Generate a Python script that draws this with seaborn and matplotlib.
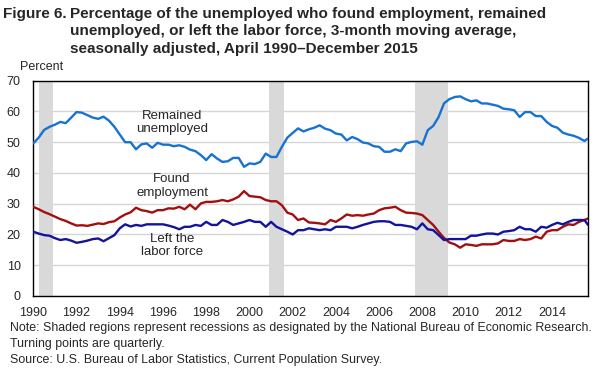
import pandas as pd
import matplotlib
matplotlib.use('Agg')
import matplotlib.pyplot as plt
import seaborn as sns

# quarterly readings, April 1990 .. October 2015, plus December 2015
dates = list(pd.date_range('1990-04-01', '2015-10-01', freq='3MS')) + [pd.Timestamp('2015-12-01')]

remained = [49.6, 51.5, 54.0, 55.0, 55.7, 56.6, 56.2, 58.0, 59.8, 59.6, 58.8, 58.0, 57.6, 58.3,
            57.0, 55.0, 52.5, 50.0, 50.0, 47.7, 49.3, 49.6, 48.2, 49.8, 49.2, 49.2, 48.7,
            49.0, 48.5, 47.6, 47.1, 45.8, 44.2, 46.1, 44.7, 43.6, 43.8, 44.9, 44.9, 42.0,
            43.1, 42.9, 43.6, 46.3, 45.2, 45.2, 48.5, 51.5, 53.0, 54.5, 53.5, 54.2, 54.7,
            55.5, 54.4, 53.9, 52.8, 52.5, 50.6, 51.7, 51.0, 49.9, 49.6, 48.7, 48.5, 46.9,
            46.9, 47.7, 47.1, 49.6, 50.1, 50.3, 49.2, 53.9, 55.3, 58.2, 62.6, 64.0, 64.7,
            64.9, 64.0, 63.3, 63.6, 62.6, 62.6, 62.2, 61.8, 60.9, 60.7, 60.4, 58.2, 59.8,
            59.8, 58.5, 58.5, 56.6, 55.3, 54.7, 53.1, 52.5, 52.1, 51.4, 50.4, 51.2]

found = [29.0, 28.2, 27.3, 26.6, 25.8, 25.0, 24.4, 23.6, 22.9, 23.0, 22.8, 23.2, 23.6, 23.4,
         24.0, 24.3, 25.5, 26.5, 27.2, 28.7, 27.9, 27.6, 27.1, 27.9, 27.9, 28.5, 28.4,
         29.0, 28.2, 29.7, 28.2, 30.1, 30.6, 30.6, 30.8, 31.2, 30.8, 31.4, 32.3, 34.1,
         32.5, 32.3, 32.1, 31.2, 30.8, 30.8, 29.5, 27.1, 26.5, 24.7, 25.2, 23.9, 23.8,
         23.6, 23.3, 24.7, 24.1, 25.2, 26.5, 26.1, 26.3, 26.1, 26.5, 26.8, 27.9, 28.5,
         28.7, 29.0, 27.9, 27.1, 27.0, 26.8, 26.3, 24.7, 23.1, 20.9, 18.9, 17.4, 16.8,
         15.7, 16.8, 16.6, 16.3, 16.8, 16.8, 16.8, 17.1, 18.2, 17.9, 17.9, 18.5, 18.2,
         18.5, 19.3, 18.7, 20.9, 21.4, 21.4, 22.5, 23.3, 23.1, 24.1, 24.7, 25.2]

left_lf = [20.9, 20.3, 19.8, 19.6, 18.8, 18.2, 18.5, 18.0, 17.3, 17.6, 18.0, 18.5, 18.7, 17.8,
           18.8, 19.8, 22.0, 23.3, 22.6, 23.1, 22.8, 23.3, 23.3, 23.3, 23.3, 22.9, 22.4,
           21.7, 22.5, 22.5, 23.1, 22.8, 24.1, 23.1, 23.1, 24.7, 24.1, 23.1, 23.6, 24.1,
           24.7, 24.1, 24.1, 22.5, 24.1, 22.5, 21.7, 20.9, 20.0, 21.4, 21.4, 22.0, 21.7,
           21.4, 21.7, 21.4, 22.5, 22.5, 22.5, 22.0, 22.5, 23.1, 23.6, 24.1, 24.3, 24.3,
           24.1, 23.1, 23.1, 22.8, 22.5, 21.7, 23.6, 21.7, 21.4, 19.8, 18.2, 18.5, 18.5,
           18.5, 18.5, 19.6, 19.6, 20.0, 20.3, 20.3, 20.0, 20.9, 21.1, 21.4, 22.5, 21.7,
           21.7, 20.9, 22.5, 22.2, 23.1, 23.8, 23.3, 24.1, 24.7, 24.7, 24.7, 23.1]

series_names = ['Remained unemployed', 'Found employment', 'Left the labor force']
series_colors = ['#1673d1', '#a30f10', '#13139b']

recessions = [('1990-07-01', '1991-03-01'), ('2001-03-01', '2001-11-01'), ('2007-12-01', '2009-06-01')]

df = pd.DataFrame({
    'date': dates * 3,
    'value': remained + found + left_lf,
    'series': sum([[n] * len(dates) for n in series_names], []),
})

sns.set_style('white')
plt.rcParams['font.family'] = ['Liberation Sans', 'DejaVu Sans']

fig = plt.figure(figsize=(6.1, 3.75), dpi=100)
ax = fig.add_axes([0.0546, 0.2107, 0.9094, 0.5741])

# recession shading
for start, end in recessions:
    ax.axvspan(pd.Timestamp(start), pd.Timestamp(end), color='#d9d9d9', lw=0, zorder=1)

sns.lineplot(data=df, x='date', y='value', hue='series', hue_order=series_names,
             palette=series_colors, linewidth=1.7, legend=False, ax=ax, zorder=3)

ax.set_xlim(pd.Timestamp('1990-04-01'), pd.Timestamp('2015-12-01'))
ax.set_ylim(0, 70)
ax.set_yticks(range(0, 71, 10))
ax.yaxis.grid(True, color='#d6d6d6', lw=1.0, zorder=0)
ax.set_axisbelow(True)

ticks = pd.date_range('1990-04-01', '2015-04-01', freq='12MS')
ax.set_xticks(ticks)
ax.set_xticklabels([str(t.year) if t.year % 2 == 0 else '' for t in ticks])
ax.tick_params(axis='x', direction='in', length=3.5, width=0.8, color='black', labelsize=9, pad=8)
ax.tick_params(axis='y', length=0, labelsize=9, pad=9)
ax.set_xlabel('')
ax.set_ylabel('')
for s in ax.spines.values():
    s.set_color('black')
    s.set_linewidth(1.0)

# series labels
lab_kw = dict(ha='center', va='center', fontsize=9.5, linespacing=1.2, zorder=4)
ax.text(pd.Timestamp('1996-09-01'), 56.4, 'Remained\nunemployed', **lab_kw)
ax.text(pd.Timestamp('1996-09-01'), 35.7, 'Found\nemployment', **lab_kw)
ax.text(pd.Timestamp('1996-09-01'), 16.4, 'Left the\nlabor force', **lab_kw)

# title
fig.text(67 / 610, 1 - 7 / 375, 'Figure 6.', ha='right', va='top', fontsize=11, fontweight='bold')
fig.text(70 / 610, 1 - 7 / 375,
         'Percentage of the unemployed who found employment, remained\n'
         'unemployed, or left the labor force, 3-month moving average,\n'
         'seasonally adjusted, April 1990\u2013December 2015',
         ha='left', va='top', fontsize=11, fontweight='bold', linespacing=1.3)
fig.text(20 / 610, 1 - 67 / 375, 'Percent', ha='left', va='center', fontsize=9)

# notes
fig.text(10 / 610, 1 - 322 / 375,
         'Note: Shaded regions represent recessions as designated by the National Bureau of Economic Research.\n'
         'Turning points are quarterly.\n'
         'Source: U.S. Bureau of Labor Statistics, Current Population Survey.',
         ha='left', va='top', fontsize=8.9, linespacing=1.42)

fig.savefig('out.png', dpi=100)
